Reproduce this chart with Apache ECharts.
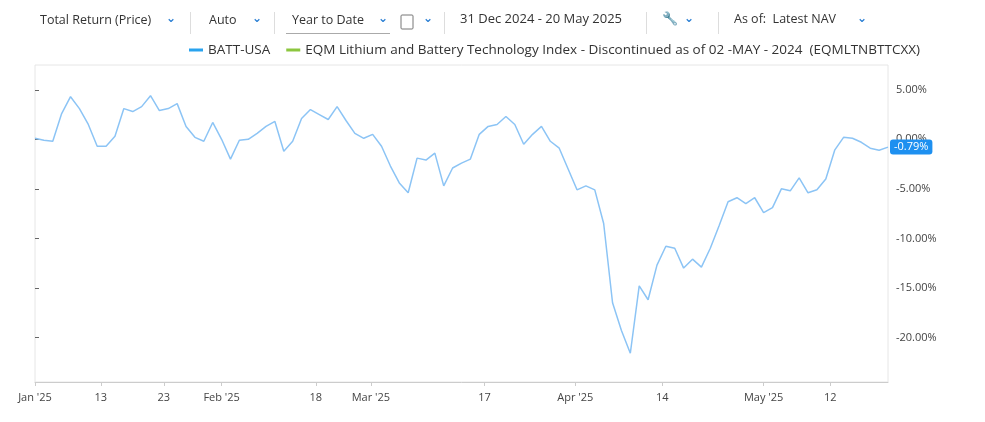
<!DOCTYPE html>
<html>
<head>
<meta charset="utf-8">
<script src="https://cdn.jsdelivr.net/npm/echarts@6/dist/echarts.min.js"></script>
<style>
  html, body { margin: 0; padding: 0; background: #fff; }
  #chart { width: 985px; height: 422px; }
</style>
</head>
<body>
<div id="chart"></div>
<script>
// BATT-USA cumulative total return (%), one point per trading day, 31 Dec 2024 - 20 May 2025
var battValues = [
  0.1, -0.1, -0.2, 2.6, 4.3, 3.1, 1.5, -0.7, -0.7, 0.3,
  3.1, 2.8, 3.3, 4.4, 2.9, 3.1, 3.6, 1.3, 0.2, -0.2,
  1.7, 0.0, -2.0, -0.1, 0.0, 0.6, 1.3, 1.8, -1.2, -0.2,
  2.1, 3.0, 2.5, 2.0, 3.3, 1.9, 0.6, 0.1, 0.5, -0.7,
  -2.7, -4.4, -5.4, -1.9, -2.1, -1.4, -4.7, -2.9, -2.4, -2.0,
  0.5, 1.3, 1.5, 2.3, 1.5, -0.5, 0.5, 1.3, -0.2, -0.9,
  -3.0, -5.1, -4.7, -5.1, -8.5, -16.5, -19.3, -21.6, -14.8, -16.2,
  -12.7, -10.8, -11.0, -13.0, -12.1, -12.9, -11.0, -8.7, -6.3, -5.9,
  -6.5, -5.9, -7.4, -6.9, -5.0, -5.2, -3.9, -5.4, -5.1, -4.0,
  -1.1, 0.2, 0.1, -0.3, -0.9, -1.1, -0.79
];
// x tick positions (trading-day index) and their labels
var xTickPos = [0, 7.4, 14.5, 21, 31.6, 37.8, 50.6, 60.8, 70.6, 82, 89.5];
var xTickLabels = ["Jan '25", "13", "23", "Feb '25", "18", "Mar '25", "17", "Apr '25", "14", "May '25", "12"];
var yTicks = [5, 0, -5, -10, -15, -20];

var seriesData = battValues.map(function (v, i) { return [i, v]; });

var chart = echarts.init(document.getElementById('chart'));
var labelFont = { fontFamily: 'Open Sans', fontSize: 11, color: '#444' };
var tbFont = '13px Open Sans';

chart.setOption({
  animation: false,
  textStyle: { fontFamily: 'Open Sans' },
  grid: { left: 35, right: 97, top: 65, bottom: 40, show: true, borderColor: '#e6e6e6', borderWidth: 1 },
  legend: {
    left: 184, top: 38, itemWidth: 14, itemHeight: 3, itemGap: 16, icon: 'rect',
    textStyle: { fontFamily: 'Open Sans', fontSize: 13.5, color: '#333' },
    data: ['BATT-USA', 'EQM Lithium and Battery Technology Index - Discontinued as of 02 -MAY - 2024  (EQMLTNBTTCXX)']
  },
  graphic: [
    { type: 'text', left: 40, top: 14, style: { text: 'Total Return (Price)', font: '12.5px Open Sans', fill: '#333' } },
    { type: 'text', left: 166, top: 13, style: { text: '⌄', font: 'bold 12px DejaVu Sans', fill: '#2a7fd4' } },
    { type: 'rect', shape: { x: 190, y: 12, width: 1, height: 22 }, style: { fill: '#ddd' } },
    { type: 'text', left: 209, top: 14, style: { text: 'Auto', font: '12.5px Open Sans', fill: '#333' } },
    { type: 'text', left: 252, top: 13, style: { text: '⌄', font: 'bold 12px DejaVu Sans', fill: '#2a7fd4' } },
    { type: 'rect', shape: { x: 274, y: 12, width: 1, height: 22 }, style: { fill: '#ddd' } },
    { type: 'text', left: 292, top: 14, style: { text: 'Year to Date', font: '12.5px Open Sans', fill: '#333' } },
    { type: 'text', left: 378, top: 13, style: { text: '⌄', font: 'bold 12px DejaVu Sans', fill: '#2a7fd4' } },
    { type: 'rect', shape: { x: 286, y: 33, width: 104, height: 1 }, style: { fill: '#aaa' } },
    { type: 'rect', shape: { x: 401, y: 15, width: 12, height: 14, r: 1 }, style: { fill: 'none', stroke: '#777', lineWidth: 1 } },
    { type: 'text', left: 423, top: 13, style: { text: '⌄', font: 'bold 12px DejaVu Sans', fill: '#2a7fd4' } },
    { type: 'rect', shape: { x: 444, y: 12, width: 1, height: 22 }, style: { fill: '#ddd' } },
    { type: 'text', left: 460, top: 13, style: { text: '31 Dec 2024 - 20 May 2025', font: tbFont, fill: '#333' } },
    { type: 'rect', shape: { x: 646, y: 12, width: 1, height: 22 }, style: { fill: '#ddd' } },
    { type: 'text', left: 662, top: 13, style: { text: '🔧', font: '13px DejaVu Sans', fill: '#555' } },
    { type: 'text', left: 684, top: 13, style: { text: '⌄', font: 'bold 12px DejaVu Sans', fill: '#2a7fd4' } },
    { type: 'rect', shape: { x: 718, y: 12, width: 1, height: 22 }, style: { fill: '#ddd' } },
    { type: 'text', left: 734, top: 13, style: { text: 'As of:  Latest NAV', font: '12.5px Open Sans', fill: '#333' } },
    { type: 'text', left: 857, top: 13, style: { text: '⌄', font: 'bold 12px DejaVu Sans', fill: '#2a7fd4' } }
  ],
  xAxis: {
    type: 'value', min: 0, max: battValues.length - 1,
    axisLine: { show: true, onZero: false, lineStyle: { color: '#ccc' } },
    axisTick: { show: true, customValues: xTickPos, length: 4, lineStyle: { color: '#ccc' } },
    splitLine: { show: false },
    axisLabel: Object.assign({
      customValues: xTickPos, margin: 10,
      formatter: function (v) {
        for (var i = 0; i < xTickPos.length; i++) { if (Math.abs(xTickPos[i] - v) < 1e-6) return xTickLabels[i]; }
        return '';
      }
    }, labelFont)
  },
  yAxis: {
    type: 'value', position: 'right', min: -24.5, max: 7.5,
    axisLine: { show: false },
    axisTick: { show: true, customValues: yTicks, length: 4, lineStyle: { color: '#666' } },
    splitLine: { show: false },
    axisLabel: Object.assign({
      customValues: yTicks, margin: 8,
      formatter: function (v) { return v.toFixed(2) + '%'; }
    }, labelFont)
  },
  series: [
    {
      name: 'BATT-USA', type: 'line', data: seriesData, showSymbol: false,
      lineStyle: { color: '#8cc4f5', width: 1.5 }, itemStyle: { color: '#29a3ee' },
      endLabel: {
        show: true, distance: 2, formatter: '-0.79%',
        backgroundColor: '#1e90f0', color: '#fff', borderRadius: 3,
        padding: [2, 4], fontSize: 11, fontFamily: 'Open Sans'
      }
    },
    {
      name: 'EQM Lithium and Battery Technology Index - Discontinued as of 02 -MAY - 2024  (EQMLTNBTTCXX)',
      type: 'line', data: [], itemStyle: { color: '#8cc63f' }
    }
  ]
});
</script>
</body>
</html>
